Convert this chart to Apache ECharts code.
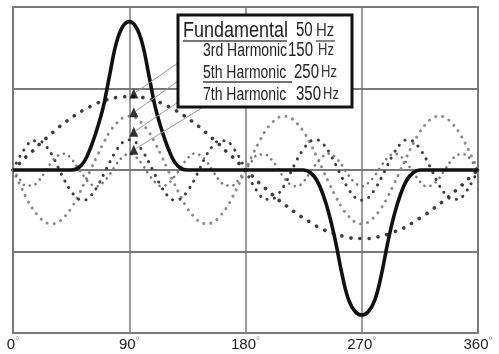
<!DOCTYPE html>
<html><head><meta charset="utf-8">
<script src="https://cdn.jsdelivr.net/npm/echarts@6/dist/echarts.min.js"></script>
<style>html,body{margin:0;padding:0;background:#fff}#c{width:499px;height:354px}</style>
</head><body><div id="c"></div>
<script>
// Sample angles (degrees)
const angles = [0,5,10,15,20,25,30,35,40,45,50,55,60,65,70,75,80,85,90,95,100,105,110,115,120,125,130,135,140,145,150,155,160,165,170,175,180,185,190,195,200,205,210,215,220,225,230,235,240,245,250,255,260,265,270,275,280,285,290,295,300,305,310,315,320,325,330,335,340,345,350,355,360];
const xTicks = [0, 90, 180, 270, 360];

// Resulting waveform (solid)
const waveform = [0,0,0,0,0,0,0,0,0,0,
  0.02,0.1,0.27,0.5,0.78,1.18,1.56,1.76,1.82,
  1.76,1.56,1.18,0.78,0.5,0.27,0.1,0.02,0,
  0,0,0,0,0,0,0,0,0,0,0,0,0,0,0,0,0,0,
  -0.03,-0.12,-0.3,-0.56,-0.9,-1.3,-1.6,-1.74,-1.78,
  -1.74,-1.6,-1.3,-0.9,-0.56,-0.3,-0.12,-0.03,0,
  0,0,0,0,0,0,0,0,0];

// Fundamental 50 Hz
const fundamental = [0,0.08,0.16,0.23,0.31,0.38,0.45,0.52,0.58,0.64,0.69,0.74,0.78,0.82,0.85,0.87,0.89,0.9,0.9,
  0.9,0.89,0.87,0.85,0.82,0.78,0.74,0.69,0.64,0.58,0.52,0.45,0.38,0.31,0.23,0.16,0.08,0,
  -0.07,-0.15,-0.22,-0.29,-0.36,-0.42,-0.48,-0.54,-0.59,-0.64,-0.69,-0.73,-0.76,-0.79,-0.81,-0.83,-0.84,-0.84,
  -0.84,-0.83,-0.81,-0.79,-0.76,-0.73,-0.69,-0.64,-0.59,-0.54,-0.48,-0.42,-0.36,-0.29,-0.22,-0.15,-0.07,0];

// 3rd harmonic 150 Hz
const harmonic3 = [0,-0.17,-0.33,-0.47,-0.57,-0.64,-0.66,-0.64,-0.57,-0.47,-0.33,-0.17,0,0.17,0.33,0.47,0.57,0.64,0.66,0.64,0.57,0.47,0.33,0.17,
  0,-0.17,-0.33,-0.47,-0.57,-0.64,-0.66,-0.64,-0.57,-0.47,-0.33,-0.17,0,0.17,0.33,0.47,0.57,0.64,0.66,0.64,0.57,0.47,0.33,0.17,
  0,-0.17,-0.33,-0.47,-0.57,-0.64,-0.66,-0.64,-0.57,-0.47,-0.33,-0.17,0,0.17,0.33,0.47,0.57,0.64,0.66,0.64,0.57,0.47,0.33,0.17,
  0];

// 5th harmonic 250 Hz
const harmonic5 = [0,0.16,0.28,0.36,0.36,0.30,0.19,0.03,-0.13,-0.26,-0.35,-0.37,-0.32,-0.21,-0.06,0.10,0.24,0.34,0.37,
  0.34,0.24,0.10,-0.06,-0.21,-0.32,-0.37,-0.35,-0.26,-0.13,0.03,0.19,0.30,0.36,0.36,0.28,0.16,0,
  -0.16,-0.28,-0.36,-0.36,-0.30,-0.19,-0.03,0.13,0.26,0.35,0.37,0.32,0.21,0.06,-0.10,-0.24,-0.34,-0.37,
  -0.34,-0.24,-0.10,0.06,0.21,0.32,0.37,0.35,0.26,0.13,-0.03,-0.19,-0.30,-0.36,-0.36,-0.28,-0.16,0];

// 7th harmonic 350 Hz
const harmonic7 = [0,-0.11,-0.19,-0.19,-0.13,-0.02,0.10,0.18,0.20,0.14,0.03,-0.08,-0.17,-0.20,-0.15,-0.05,0.07,0.16,0.20,
  0.16,0.07,-0.05,-0.15,-0.20,-0.17,-0.08,0.03,0.14,0.20,0.18,0.10,-0.02,-0.13,-0.19,-0.19,-0.11,0,
  0.11,0.19,0.19,0.13,0.02,-0.10,-0.18,-0.20,-0.14,-0.03,0.08,0.17,0.20,0.15,0.05,-0.07,-0.16,-0.20,
  -0.16,-0.07,0.05,0.15,0.20,0.17,0.08,-0.03,-0.14,-0.20,-0.18,-0.10,0.02,0.13,0.19,0.19,0.11,0];

// Arrow markers at 90°
const arrowAngle = 93.5;
const arrowValues = [0.94, 0.71, 0.47, 0.25];

// Legend rows
const legendNames = ['Fundamental', '3rd Harmonic', '5th Harmonic', '7th Harmonic'];
const legendFreqs = ['50', '150', '250', '350'];
const legendUnit = 'Hz';

const FONT = "'Liberation Sans', Arial, sans-serif";
const pair = arr => angles.map((a, i) => [a, arr[i]]);

const chart = echarts.init(document.getElementById('c'), null, {renderer: 'canvas'});

function dotted(name, arr, color, width, gap) {
  return {
    name, type: 'line', data: pair(arr), smooth: 0.4, symbol: 'none', z: 2,
    lineStyle: {color, width, type: [0.1, gap], cap: 'round'}
  };
}

const grid = {left: 13, right: 21, top: 7, bottom: 21, show: true, borderColor: '#7a7a7a', borderWidth: 2};

const option = {
  animation: false,
  backgroundColor: '#fff',
  grid,
  xAxis: {
    type: 'value', min: xTicks[0], max: xTicks[xTicks.length - 1], interval: 90,
    axisLine: {show: true, onZero: false, lineStyle: {color: '#7a7a7a', width: 2}},
    axisTick: {show: false},
    splitLine: {show: true, lineStyle: {color: '#7a7a7a', width: 1.5}},
    axisLabel: {
      margin: 3,
      formatter: v => '{n|' + v + '}{d|°}',
      rich: {
        n: {fontFamily: FONT, fontSize: 15, color: '#222', lineHeight: 17},
        d: {fontFamily: FONT, fontSize: 10, color: '#999', verticalAlign: 'top', lineHeight: 17}
      }
    }
  },
  yAxis: {
    type: 'value', min: -2, max: 2, interval: 1,
    axisLine: {show: false}, axisTick: {show: false}, axisLabel: {show: false},
    splitLine: {show: true, lineStyle: {color: '#7a7a7a', width: 1.8}}
  },
  series: [
    dotted('Fundamental', fundamental, '#3d3d3d', 3.6, 9),
    dotted('3rd Harmonic', harmonic3, '#8c8c8c', 3, 7),
    dotted('5th Harmonic', harmonic5, '#3d3d3d', 3, 7.5),
    dotted('7th Harmonic', harmonic7, '#7a7a7a', 2.6, 6),
    {
      name: 'Waveform', type: 'line', data: pair(waveform), smooth: 0.4, symbol: 'none', z: 4,
      lineStyle: {color: '#111', width: 3.6}
    },
    {
      name: 'Markers', type: 'scatter', z: 5, symbol: 'triangle', symbolSize: [9, 10],
      data: arrowValues.map(v => [arrowAngle, v]),
      itemStyle: {color: '#000'}
    }
  ]
};
chart.setOption(option);

// Legend box with leader lines
const box = {x: 178, y: 15, w: 174, h: 92};
const rowY = [31, 51, 73, 95];
const nameX = [183, 203, 203, 203];
const nameSize = [18, 14, 14, 14];
const nameScaleY = [1.2, 1.25, 1.25, 1.25];
const freqX = [296, 288, 294, 296];
const unitX = [316, 318, 321, 323];
const unitSize = [15, 13, 13, 13];
const leaderEnd = [[205, 44], [205, 62], [205, 84], [205, 106]];

const graphics = [];
arrowValues.forEach((v, i) => {
  const p = chart.convertToPixel({gridIndex: 0}, [arrowAngle, v]);
  graphics.push({type: 'line', z: 90, silent: true,
    shape: {x1: p[0] + 2, y1: p[1] - 1, x2: leaderEnd[i][0], y2: leaderEnd[i][1]},
    style: {stroke: '#9a9a9a', lineWidth: 1}});
});
graphics.push({type: 'rect', z: 100, silent: true,
  shape: {x: box.x, y: box.y, width: box.w, height: box.h},
  style: {fill: '#fff', stroke: '#111', lineWidth: 3}});
legendNames.forEach((n, i) => {
  graphics.push({type: 'text', z: 101, x: nameX[i], y: rowY[i], scaleY: nameScaleY[i], silent: true,
    style: {text: n, font: nameSize[i] + 'px ' + FONT, fill: '#222', align: 'left', verticalAlign: 'middle'}});
  graphics.push({type: 'text', z: 101, x: freqX[i], y: rowY[i], scaleY: 1.3, silent: true,
    style: {text: legendFreqs[i], font: '15px ' + FONT, fill: '#222', align: 'left', verticalAlign: 'middle'}});
  graphics.push({type: 'text', z: 101, x: unitX[i], y: rowY[i], scaleY: 1.2, silent: true,
    style: {text: legendUnit, font: unitSize[i] + 'px ' + FONT, fill: '#333', align: 'left', verticalAlign: 'middle'}});
});
// underlines
[[183, 287, 41], [316, 335, 41], [203, 292, 82]].forEach(u => {
  graphics.push({type: 'line', z: 101, silent: true,
    shape: {x1: u[0], y1: u[2], x2: u[1], y2: u[2]},
    style: {stroke: '#444', lineWidth: 1.3}});
});
chart.setOption({graphic: graphics});
</script>
</body></html>
